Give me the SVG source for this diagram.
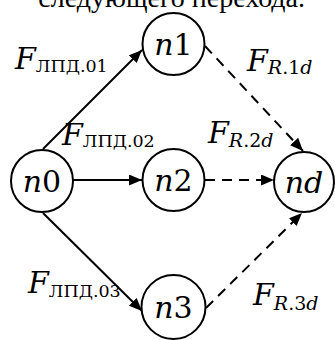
<svg xmlns="http://www.w3.org/2000/svg" width="335" height="340" viewBox="0 0 335 340">
<style>
.node circle{fill:#fff;stroke:#000;stroke-width:2}
.nl{font-family:"DejaVu Serif",serif;font-size:30px;text-anchor:middle;fill:#000}
.it{font-style:italic}
.F{font-family:"DejaVu Serif",serif;font-size:30px;font-style:italic;fill:#000}
.sub{font-size:19px;font-style:normal}
.cy{font-size:17.5px;font-style:normal}
.solid{stroke:#000;stroke-width:2;fill:none}
.dash{stroke:#000;stroke-width:2;fill:none;stroke-dasharray:10 7}
.top{font-family:"Liberation Serif","Times New Roman",serif;font-size:28px;fill:#000}
</style>
<defs>
<marker id="ah" markerUnits="userSpaceOnUse" markerWidth="14" markerHeight="12" refX="13" refY="5.5" orient="auto">
<path d="M0,0 L13,5.5 L0,11 z" fill="#000"/>
</marker>
</defs>
<text class="top" x="305" y="7" text-anchor="end">следующего перехода.</text>
<g id="connectors">
<line class="solid" x1="43" y1="149" x2="142" y2="50" marker-end="url(#ah)"/>
<line class="solid" x1="73" y1="180" x2="142" y2="180" marker-end="url(#ah)"/>
<line class="solid" x1="43" y1="213" x2="142" y2="311" marker-end="url(#ah)"/>
<line class="dash" x1="205" y1="46" x2="303" y2="151" marker-end="url(#ah)"/>
<line class="dash" x1="205" y1="180" x2="274" y2="180" marker-end="url(#ah)"/>
<line class="dash" x1="206" y1="308" x2="302" y2="213" marker-end="url(#ah)"/>
</g>
<g id="n0" class="node"><circle cx="42" cy="181" r="31"/><text class="nl" x="42" y="192"><tspan class="it">n</tspan>0</text></g>
<g id="n1" class="node"><circle cx="173.5" cy="44" r="31"/><text class="nl" x="173.5" y="55"><tspan class="it">n</tspan>1</text></g>
<g id="n2" class="node"><circle cx="173.5" cy="180" r="31"/><text class="nl" x="173.5" y="191"><tspan class="it">n</tspan>2</text></g>
<g id="nd" class="node"><circle cx="304" cy="182" r="30"/><text class="nl it" x="304" y="193">nd</text></g>
<g id="n3" class="node"><circle cx="173.5" cy="307" r="32"/><text class="nl" x="173.5" y="318"><tspan class="it">n</tspan>3</text></g>
<g id="labels">
<text class="F" x="15" y="69">F<tspan class="cy" dy="3">ЛПД.01</tspan></text>
<text class="F" x="62" y="145">F<tspan class="cy" dy="2">ЛПД.02</tspan></text>
<text class="F" x="28" y="293">F<tspan class="cy" dy="4">ЛПД.03</tspan></text>
<text class="F" x="247" y="71">F<tspan class="sub" dy="3"><tspan class="it">R</tspan>.1<tspan class="it">d</tspan></tspan></text>
<text class="F" x="208" y="143">F<tspan class="sub" dy="4"><tspan class="it">R</tspan>.2<tspan class="it">d</tspan></tspan></text>
<text class="F" x="253" y="305">F<tspan class="sub" dy="5"><tspan class="it">R</tspan>.3<tspan class="it">d</tspan></tspan></text>
</g>
</svg>
